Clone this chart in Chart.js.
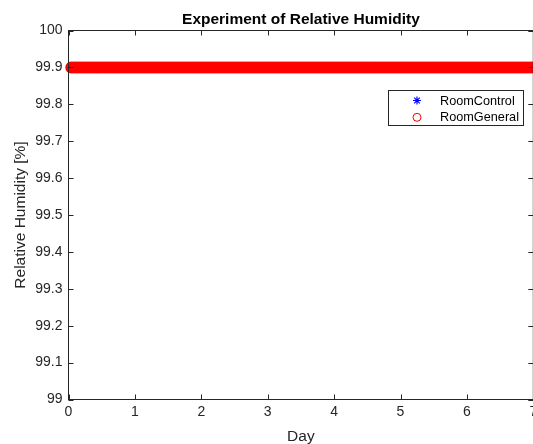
<!DOCTYPE html>
<html>
<head>
<meta charset="utf-8">
<script src="https://cdn.jsdelivr.net/npm/chart.js@4.4.0/dist/chart.umd.min.js"></script>
<style>
  html, body { margin: 0; padding: 0; background: #fff; overflow: hidden; }
  #wrap { width: 540px; height: 444px; }
</style>
</head>
<body>
<div id="wrap"><canvas id="grafico" width="540" height="444"></canvas></div>
<script>
// datos: una lectura por hora, humedad constante en 99.9
var horas = [
  1,2,3,4,5,6,7,8,9,10,11,12,13,14,15,16,17,18,19,20,21,22,23,24,
  25,26,27,28,29,30,31,32,33,34,35,36,37,38,39,40,41,42,43,44,45,46,47,48,
  49,50,51,52,53,54,55,56,57,58,59,60,61,62,63,64,65,66,67,68,69,70,71,72,
  73,74,75,76,77,78,79,80,81,82,83,84,85,86,87,88,89,90,91,92,93,94,95,96,
  97,98,99,100,101,102,103,104,105,106,107,108,109,110,111,112,113,114,115,116,117,118,119,120,
  121,122,123,124,125,126,127,128,129,130,131,132,133,134,135,136,137,138,139,140,141,142,143,144,
  145,146,147,148,149,150,151,152,153,154,155,156,157,158,159,160,161,162,163,164,165,166,167,168,
  169,170,171
];
var roomControl = [
  99.9,99.9,99.9,99.9,99.9,99.9,99.9,99.9,99.9,99.9,99.9,99.9,99.9,99.9,99.9,99.9,99.9,99.9,99.9,99.9,99.9,99.9,99.9,99.9,
  99.9,99.9,99.9,99.9,99.9,99.9,99.9,99.9,99.9,99.9,99.9,99.9,99.9,99.9,99.9,99.9,99.9,99.9,99.9,99.9,99.9,99.9,99.9,99.9,
  99.9,99.9,99.9,99.9,99.9,99.9,99.9,99.9,99.9,99.9,99.9,99.9,99.9,99.9,99.9,99.9,99.9,99.9,99.9,99.9,99.9,99.9,99.9,99.9,
  99.9,99.9,99.9,99.9,99.9,99.9,99.9,99.9,99.9,99.9,99.9,99.9,99.9,99.9,99.9,99.9,99.9,99.9,99.9,99.9,99.9,99.9,99.9,99.9,
  99.9,99.9,99.9,99.9,99.9,99.9,99.9,99.9,99.9,99.9,99.9,99.9,99.9,99.9,99.9,99.9,99.9,99.9,99.9,99.9,99.9,99.9,99.9,99.9,
  99.9,99.9,99.9,99.9,99.9,99.9,99.9,99.9,99.9,99.9,99.9,99.9,99.9,99.9,99.9,99.9,99.9,99.9,99.9,99.9,99.9,99.9,99.9,99.9,
  99.9,99.9,99.9,99.9,99.9,99.9,99.9,99.9,99.9,99.9,99.9,99.9,99.9,99.9,99.9,99.9,99.9,99.9,99.9,99.9,99.9,99.9,99.9,99.9,
  99.9,99.9,99.9
];
var roomGeneral = [
  99.9,99.9,99.9,99.9,99.9,99.9,99.9,99.9,99.9,99.9,99.9,99.9,99.9,99.9,99.9,99.9,99.9,99.9,99.9,99.9,99.9,99.9,99.9,99.9,
  99.9,99.9,99.9,99.9,99.9,99.9,99.9,99.9,99.9,99.9,99.9,99.9,99.9,99.9,99.9,99.9,99.9,99.9,99.9,99.9,99.9,99.9,99.9,99.9,
  99.9,99.9,99.9,99.9,99.9,99.9,99.9,99.9,99.9,99.9,99.9,99.9,99.9,99.9,99.9,99.9,99.9,99.9,99.9,99.9,99.9,99.9,99.9,99.9,
  99.9,99.9,99.9,99.9,99.9,99.9,99.9,99.9,99.9,99.9,99.9,99.9,99.9,99.9,99.9,99.9,99.9,99.9,99.9,99.9,99.9,99.9,99.9,99.9,
  99.9,99.9,99.9,99.9,99.9,99.9,99.9,99.9,99.9,99.9,99.9,99.9,99.9,99.9,99.9,99.9,99.9,99.9,99.9,99.9,99.9,99.9,99.9,99.9,
  99.9,99.9,99.9,99.9,99.9,99.9,99.9,99.9,99.9,99.9,99.9,99.9,99.9,99.9,99.9,99.9,99.9,99.9,99.9,99.9,99.9,99.9,99.9,99.9,
  99.9,99.9,99.9,99.9,99.9,99.9,99.9,99.9,99.9,99.9,99.9,99.9,99.9,99.9,99.9,99.9,99.9,99.9,99.9,99.9,99.9,99.9,99.9,99.9,
  99.9,99.9,99.9
];

var xTicks = [0, 1, 2, 3, 4, 5, 6, 7];
var xTickLabels = ['0', '1', '2', '3', '4', '5', '6', '7'];
var yTicks = [99, 99.1, 99.2, 99.3, 99.4, 99.5, 99.6, 99.7, 99.8, 99.9, 100];
var yTickLabels = ['99', '99.1', '99.2', '99.3', '99.4', '99.5', '99.6', '99.7', '99.8', '99.9', '100'];

var titulo = 'Experiment of Relative Humidity';
var tituloX = 'Day';
var tituloY = 'Relative Humidity [%]';

var gris = '#262626';
var fuente = '"Liberation Sans", Arial, sans-serif';

function puntos(valores) {
  return horas.map(function(h, i) { return { x: h / 24, y: valores[i] }; });
}

// ejes tipo matlab: caja, marcas hacia dentro, titulos y leyenda
var estiloMatlab = {
  id: 'estiloMatlab',
  afterDraw: function(chart) {
    var ctx = chart.ctx;
    var a = chart.chartArea;
    var sx = chart.scales.x, sy = chart.scales.y;
    ctx.save();
    ctx.strokeStyle = gris;
    ctx.lineWidth = 1;
    ctx.strokeRect(a.left, a.top, a.right - a.left, a.bottom - a.top);

    ctx.beginPath();
    xTicks.forEach(function(v) {
      var px = Math.round(sx.getPixelForValue(v)) + 0.5;
      ctx.moveTo(px, a.bottom); ctx.lineTo(px, a.bottom - 5);
      ctx.moveTo(px, a.top); ctx.lineTo(px, a.top + 5);
    });
    yTicks.forEach(function(v) {
      var py = Math.round(sy.getPixelForValue(v)) + 0.5;
      ctx.moveTo(a.left, py); ctx.lineTo(a.left + 5, py);
      ctx.moveTo(a.right, py); ctx.lineTo(a.right - 5, py);
    });
    ctx.stroke();

    var cx = (a.left + a.right) / 2;
    ctx.fillStyle = 'black';
    ctx.textAlign = 'center';
    ctx.textBaseline = 'alphabetic';
    ctx.font = 'bold 15.5px ' + fuente;
    ctx.fillText(titulo, cx, 23.5);

    ctx.fillStyle = gris;
    ctx.font = '15.5px ' + fuente;
    ctx.fillText(tituloX, cx, 441);

    ctx.save();
    ctx.translate(25, (a.top + a.bottom) / 2);
    ctx.rotate(-Math.PI / 2);
    ctx.fillText(tituloY, 0, 0);
    ctx.restore();

    // leyenda
    var lx = 388.5, ly = 90.5, lw = 135, lh = 35;
    ctx.fillStyle = 'white';
    ctx.fillRect(lx, ly, lw, lh);
    ctx.strokeStyle = gris;
    ctx.strokeRect(lx, ly, lw, lh);
    ctx.font = '12.7px ' + fuente;
    ctx.textAlign = 'left';
    ctx.textBaseline = 'middle';
    chart.data.datasets.forEach(function(d, i) {
      var my = ly + 10 + i * 16.8;
      var mx = 417;
      ctx.strokeStyle = d.borderColor;
      ctx.lineWidth = 1.2;
      if (d.pointStyle === 'star') {
        ctx.beginPath();
        for (var k = 0; k < 4; k++) {
          var ang = k * Math.PI / 4;
          ctx.moveTo(mx - 4 * Math.cos(ang), my - 4 * Math.sin(ang));
          ctx.lineTo(mx + 4 * Math.cos(ang), my + 4 * Math.sin(ang));
        }
        ctx.stroke();
      } else {
        ctx.lineWidth = 1;
        ctx.beginPath();
        ctx.arc(mx, my, 4, 0, 2 * Math.PI);
        ctx.stroke();
      }
      ctx.fillStyle = 'black';
      ctx.fillText(d.label, 440, my + 0.5);
    });
    ctx.restore();
  }
};

new Chart(document.getElementById('grafico').getContext('2d'), {
  type: 'scatter',
  data: {
    datasets: [{
      label: 'RoomControl',
      data: puntos(roomControl),
      pointStyle: 'star',
      pointRadius: 4,
      borderColor: '#0000ff',
      backgroundColor: '#0000ff',
      borderWidth: 1,
      showLine: false,
      clip: false,
      order: 2
    }, {
      label: 'RoomGeneral',
      data: puntos(roomGeneral),
      pointStyle: 'circle',
      pointRadius: 5.3,
      borderColor: '#ff0000',
      backgroundColor: '#ff0000',
      borderWidth: 1.4,
      showLine: false,
      clip: false,
      order: 1
    }]
  },
  options: {
    responsive: false,
    animation: false,
    events: [],
    layout: { padding: { top: 30.5, right: 5, left: 0, bottom: 0 } },
    plugins: {
      legend: { display: false },
      title: { display: false },
      tooltip: { enabled: false }
    },
    scales: {
      x: {
        type: 'linear',
        min: 0,
        max: 7,
        grid: { display: false, drawTicks: false },
        border: { display: false },
        afterBuildTicks: function(s) { s.ticks = xTicks.map(function(v) { return { value: v }; }); },
        afterFit: function(s) { s.height = 44.5; s.paddingLeft = 0; s.paddingRight = 0; },
        ticks: {
          padding: 4,
          maxRotation: 0,
          autoSkip: false,
          color: gris,
          font: { family: fuente, size: 14 },
          callback: function(v) { return xTickLabels[xTicks.indexOf(v)]; }
        }
      },
      y: {
        min: 99,
        max: 100,
        grid: { display: false, drawTicks: false },
        border: { display: false },
        afterBuildTicks: function(s) { s.ticks = yTicks.map(function(v) { return { value: v }; }); },
        afterFit: function(s) { s.width = 68.5; s.paddingTop = 0; s.paddingBottom = 0; },
        ticks: {
          padding: 6,
          autoSkip: false,
          color: gris,
          font: { family: fuente, size: 14 },
          callback: function(v) { return yTickLabels[yTicks.indexOf(v)]; }
        }
      }
    }
  },
  plugins: [estiloMatlab]
});
</script>
</body>
</html>
